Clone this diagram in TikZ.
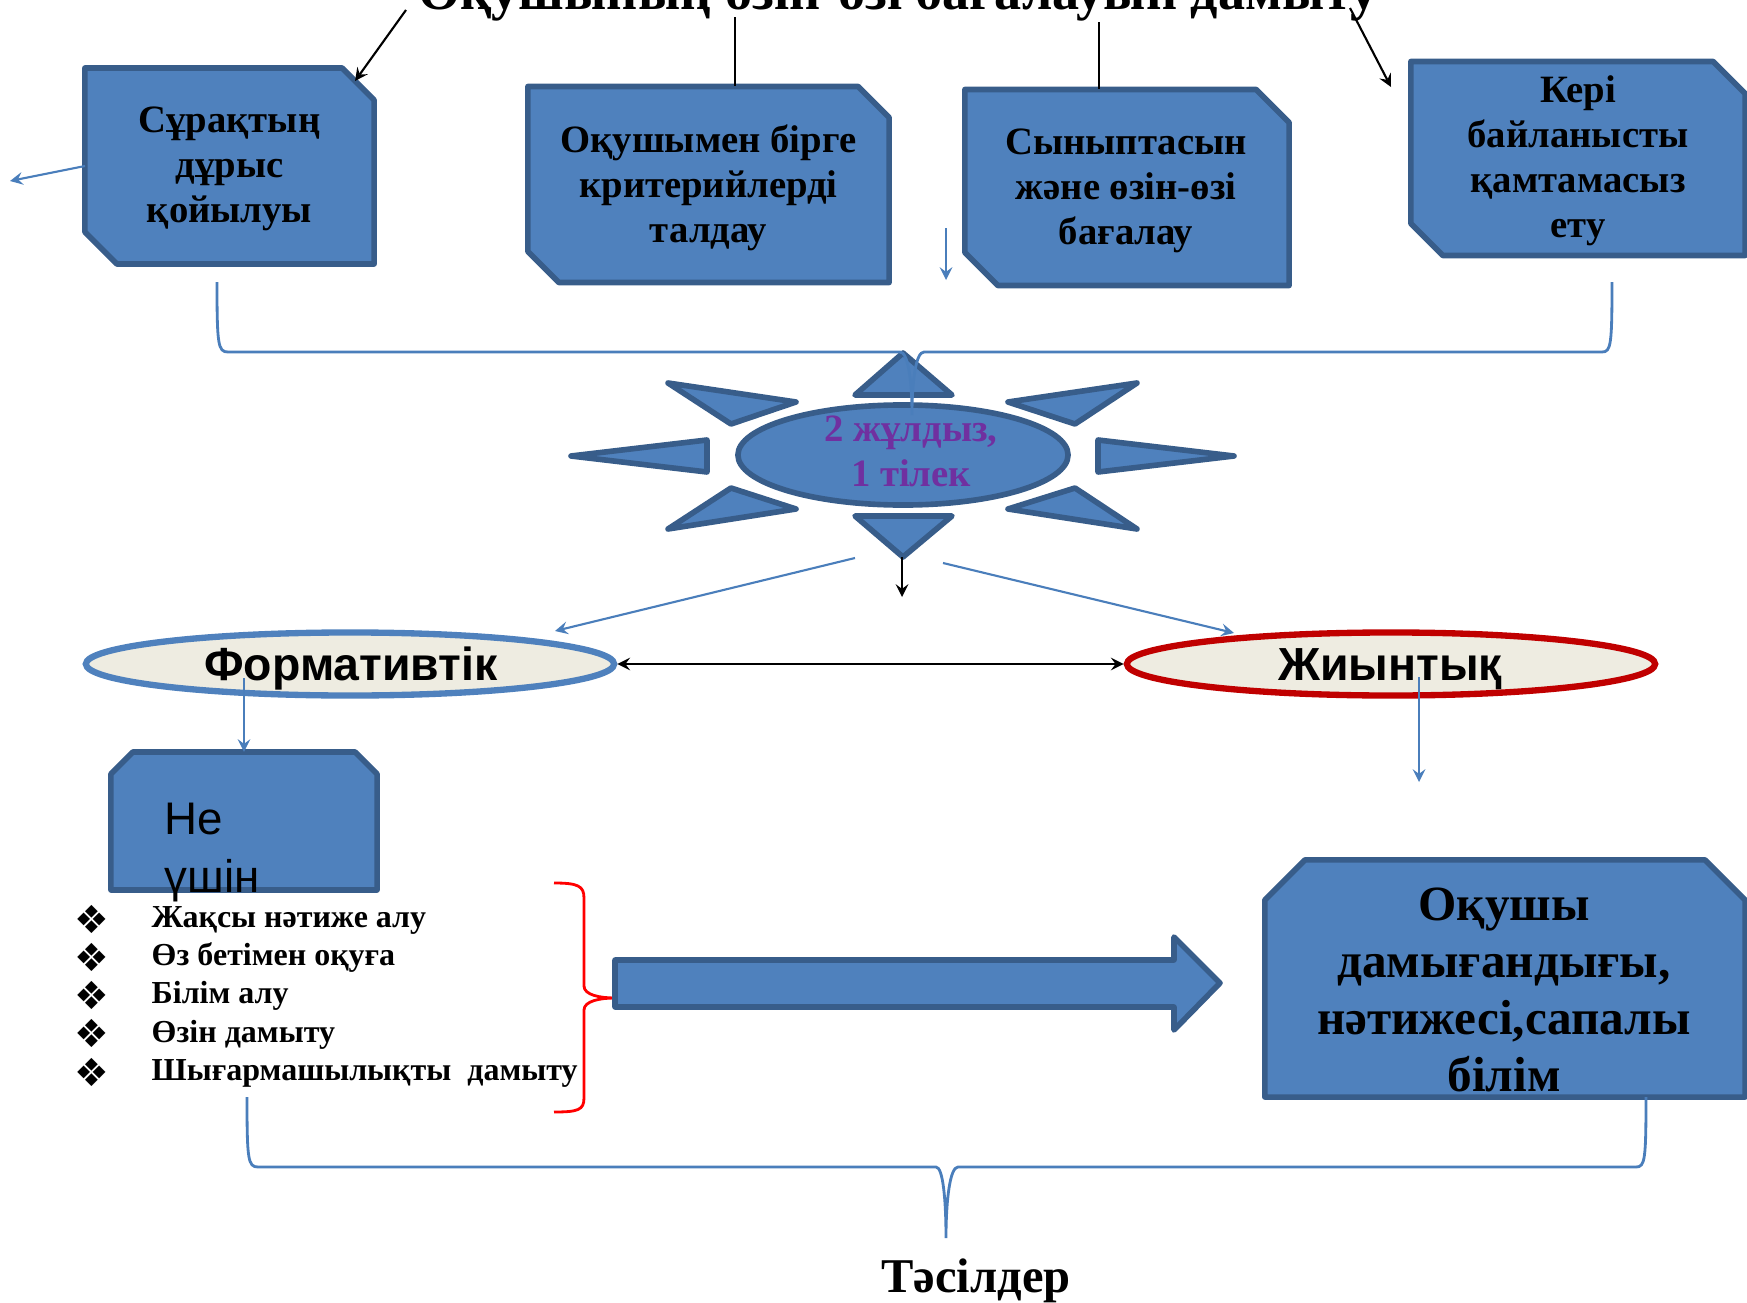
\documentclass[tikz,border=0pt]{standalone}
\usepackage{fontspec}
\setmainfont{Liberation Serif}
\newfontfamily\sansfont{Liberation Sans}
\newfontfamily\symbfont{DejaVu Sans}
\usetikzlibrary{positioning, calc, shapes.geometric}

\definecolor{boxblue}{HTML}{4F81BD}
\definecolor{boxedge}{HTML}{385D8A}
\definecolor{linkblue}{HTML}{4A7EBB}
\definecolor{wishpurple}{HTML}{7030A0}
\definecolor{paper}{HTML}{EEECE1}
\definecolor{darkred}{HTML}{C00000}

\tikzset{
  snipbox/.style={rectangle, inner sep=0pt, outer sep=0pt},
  snipedge/.style={draw=boxedge, fill=boxblue, line width=1.6pt, line join=round},
  boxtext/.style={align=center, inner sep=0pt,
    font=\bfseries\fontsize{11}{12.8}\selectfont},
  ray/.style={draw=boxedge, fill=boxblue, line width=1.6pt, line join=round},
  kind/.style={ellipse, fill=paper, line width=1.8pt, inner sep=0pt,
    minimum width=5.28cm, minimum height=0.63cm},
  kindtext/.style={anchor=base, inner sep=0pt,
    font=\sansfont\bfseries\fontsize{13.2}{15}\selectfont},
  link/.style={linkblue, line width=0.6pt, ->, >=stealth},
  pointer/.style={black, line width=0.6pt, ->, >=stealth},
  goal/.style={anchor=base west, inner sep=0pt,
    font=\bfseries\fontsize{9.1}{11}\selectfont},
  goalmark/.style={inner sep=0pt, font=\symbfont\fontsize{11}{12}\selectfont}
}

\begin{document}
\begin{tikzpicture}[x=0.01cm, y=-0.01cm]
    \useasboundingbox (0,0) rectangle (1747,1303);
    \clip (0,0) rectangle (1747,1303);

    % title, cut by the top edge
    \node[anchor=base, inner sep=0pt, font=\bfseries\fontsize{15.4}{18}\selectfont]
      (title) at (898,9) {Оқушының өзін-өзі бағалауын дамыту};

    % boxes (outlines drawn below)
    \node[snipbox, minimum width=2.89cm, minimum height=1.96cm]
      (question) at (229.5,166) {};
    \node[snipbox, minimum width=3.61cm, minimum height=1.96cm]
      (criteria) at (708.5,184.5) {};
    \node[snipbox, minimum width=3.24cm, minimum height=1.96cm]
      (peer) at (1127,187.5) {};
    \node[snipbox, minimum width=3.34cm, minimum height=1.94cm]
      (feedback) at (1578,158.5) {};
    \node[snipbox, minimum width=2.66cm, minimum height=1.38cm]
      (why) at (244,821) {};
    \node[snipbox, minimum width=4.8cm, minimum height=2.37cm]
      (result) at (1505,978.5) {};

    % cut top-right and bottom-left corners
    \foreach \b/\c in {question/0.32cm, criteria/0.31cm, peer/0.33cm,
        feedback/0.32cm}{
      \draw[snipedge] (\b.north west) -- ([xshift=-\c]\b.north east)
        -- ([yshift=-\c]\b.north east) -- (\b.south east)
        -- ([xshift=\c]\b.south west) -- ([yshift=\c]\b.south west) -- cycle;
    }
    % cut both top corners
    \foreach \b/\c in {why/0.22cm, result/0.4cm}{
      \draw[snipedge] ([yshift=-\c]\b.north west) -- ([xshift=\c]\b.north west)
        -- ([xshift=-\c]\b.north east) -- ([yshift=-\c]\b.north east)
        -- (\b.south east) -- (\b.south west) -- cycle;
    }

    \node[boxtext] (question-t) at (229.5,169) {Сұрақтың\\дұрыс\\қойылуы};
    \node[boxtext] (criteria-t) at (708.5,187.5)
      {Оқушымен бірге\\критерийлерді\\талдау};
    \node[boxtext] (peer-t) at (1126,190.5) {Сыныптасын\\және өзін-өзі\\бағалау};
    \node[boxtext] (feedback-t) at (1578,161)
      {Кері\\байланысты\\қамтамасыз\\ету};

    % lines from the title
    \coordinate (title-l) at (406,10);
    \coordinate (title-m1) at (735,17);
    \coordinate (title-m2) at (1099,22);
    \coordinate (title-r) at (1350,8);
    \coordinate (feedback-in) at (1391,87);
    \draw[pointer] (title-l) -- ([xshift=-0.19cm, yshift=-0.13cm]question.north east);
    \draw[black, line width=0.6pt] (title-m1) -- (title-m1 |- criteria.north);
    \draw[black, line width=0.6pt] (title-m2) -- (title-m2 |- peer.north);
    \draw[pointer] (title-r) -- (feedback-in);

    \coordinate (left-end) at (10,181);
    \draw[link] (question.west) -- (left-end);
    \coordinate (drop-a) at (946,228);
    \coordinate (drop-b) at (946,280);
    \draw[link] (drop-a) -- (drop-b);

    % the sun
    \foreach \a/\b/\c in {{903,353}/{952,395}/{855,395},
        {855,516}/{952,516}/{903,557},
        {571,456}/{707,440}/{707,472},
        {1234,456}/{1098,440}/{1098,472},
        {668,383}/{796,402}/{731,424},
        {1137,383}/{1008,402}/{1075,424},
        {668,529}/{731,488}/{796,509},
        {1137,529}/{1075,488}/{1008,509}}{
      \draw[ray] (\a) -- (\b) -- (\c) -- cycle;
    }
    \node[ellipse, draw=boxedge, fill=boxblue, line width=1.6pt, inner sep=0pt,
      minimum width=3.3cm, minimum height=1.0cm] (wish) at (903,455) {};
    \node[boxtext, text=wishpurple] (wish-t) at (911,451) {2 жұлдыз,\\1 тілек};

    % brace under the top row
    \draw[linkblue, line width=0.8pt] (217,282) .. controls (217,345) and (218,352) ..
      (228,352) -- (900,352) .. controls (908,352) and (912,380) .. (912,415)
      .. controls (912,380) and (916,352) .. (924,352) -- (1602,352)
      .. controls (1611,352) and (1612,345) .. (1612,282);

    % from the sun
    \coordinate (sun-s) at (902,557);
    \coordinate (sun-s-end) at (902,597);
    \draw[pointer] (sun-s) -- (sun-s-end);
    \coordinate (sun-l) at (855,558);
    \coordinate (sun-l-end) at (555,631);
    \draw[link] (sun-l) -- (sun-l-end);
    \coordinate (sun-r) at (943,563);
    \coordinate (sun-r-end) at (1234,633);
    \draw[link] (sun-r) -- (sun-r-end);

    % two kinds of assessment
    \node[kind, draw=boxblue] (formative) at (350,664) {};
    \node[kindtext] (formative-t) at (351,680) {Формативтік};
    \node[kind, draw=darkred] (summative) at (1391,664) {};
    \node[kindtext] (summative-t) at (1390,680) {Жиынтық};
    \draw[black, line width=0.6pt, <->, >=stealth] (formative) -- (summative);

    \node[anchor=north west, inner sep=0pt, align=left,
      font=\sansfont\fontsize{13}{16.5}\selectfont] (why-t) at (164,802) {Не\\үшін};
    \coordinate (form-in) at (244,678);
    \draw[link] (form-in) -- (why.north);
    \coordinate (sum-in) at (1419,677);
    \coordinate (sum-end) at (1419,782);
    \draw[link] (sum-in) -- (sum-end);

    % list of aims
    \foreach \t [count=\i] in {Жақсы нәтиже алу, Өз бетімен оқуға, Білім алу,
        Өзін дамыту, Шығармашылықты\ \ дамыту}{
      \node[goal] (goal-\i) at (151,{889+38.3*\i}) {\t};
      \node[goalmark] (goal-\i-b) at (92,{880.7+38.3*\i}) {❖};
    }
    \draw[red, line width=0.8pt] (554,883) .. controls (578,883) and (584,886) ..
      (584,898) -- (584,986) .. controls (584,995) and (600,998) .. (615,998)
      .. controls (600,998) and (584,1001) .. (584,1010) -- (584,1098)
      .. controls (584,1110) and (578,1112) .. (554,1112);

    % big arrow and result
    \draw[ray] (615,960) -- (1174,960) -- (1174,937) -- (1220,983) -- (1174,1030)
      -- (1174,1007) -- (615,1007) -- cycle;
    \node[boxtext, font=\bfseries\fontsize{14}{16.2}\selectfont] (result-t)
      at (1504,990) {Оқушы\\дамығандығы,\\нәтижесі,сапалы\\білім};

    % bottom brace
    \draw[linkblue, line width=0.8pt] (247,1097) .. controls (247,1160) and (248,1167) ..
      (258,1167) -- (936,1167) .. controls (943,1167) and (946,1200) .. (946,1238)
      .. controls (946,1200) and (950,1167) .. (958,1167) -- (1636,1167)
      .. controls (1645,1167) and (1646,1160) .. (1646,1097);
    \node[anchor=base, inner sep=0pt, font=\bfseries\fontsize{13.8}{16}\selectfont]
      (methods) at (976,1292) {Тәсілдер};
\end{tikzpicture}
\end{document}
